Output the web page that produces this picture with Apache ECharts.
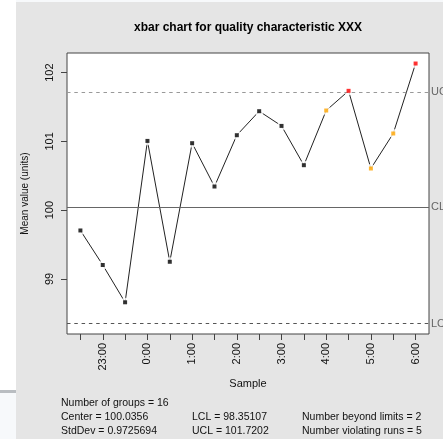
<!DOCTYPE html>
<html>
<head>
<meta charset="utf-8">
<script src="https://cdn.jsdelivr.net/npm/echarts@6/dist/echarts.min.js"></script>
<style>
  html, body { margin: 0; padding: 0; background: #f7f9fb; }
  #bg { position: absolute; left: 16px; top: 2px; width: 427px; height: 437px; background: #e5e5e5; }
  #wh { position: absolute; left: 0; top: 0; width: 16px; height: 390px; background: #ffffff; }
  #stripe { position: absolute; left: 0; top: 390px; width: 16px; height: 3px; background: #b9bdc1; }
  #chart { position: absolute; left: 0; top: 0; width: 443px; height: 439px; }
</style>
</head>
<body>
<div id="wh"></div>
<div id="stripe"></div>
<div id="bg"></div>
<div id="chart"></div>
<script>
// ---- data ----
const sampleLabels = ['22:30','23:00','23:30','0:00','0:30','1:00','1:30','2:00','2:30','3:00','3:30','4:00','4:30','5:00','5:30','6:00'];
const groupMeans = [99.705, 99.203, 98.661, 101.007, 99.25, 100.974, 100.344, 101.09, 101.439, 101.225, 100.654, 101.449, 101.735, 100.606, 101.115, 102.132];
const violatingRuns = [12, 14, 15];   // sample numbers (1-based), orange
const beyondLimits = [13, 16];        // sample numbers (1-based), red
const centerLine = 100.0356;
const lowerLimit = 98.35107;
const upperLimit = 101.7202;
const yTicks = [99, 100, 101, 102];
const statsCol1 = ['Number of groups = 16', 'Center = 100.0356', 'StdDev = 0.9725694'];
const statsCol2 = ['', 'LCL = 98.35107', 'UCL = 101.7202'];
const statsCol3 = ['', 'Number beyond limits = 2', 'Number violating runs = 5'];

const FONT = 'Liberation Sans, Arial, Helvetica, sans-serif';
const chart = echarts.init(document.getElementById('chart'), null, { renderer: 'canvas' });

const sampleNums = sampleLabels.map((_, i) => i + 1);
const pts = groupMeans.map((v, i) => [i + 1, v]);
const colored = groupMeans.map((v, i) => {
  const n = i + 1;
  let c = '#000000';
  if (beyondLimits.includes(n)) c = '#ff0000';
  else if (violatingRuns.includes(n)) c = '#ffa500';
  return { value: [n, v], itemStyle: { color: c } };
});

const graphics = [{
  type: 'text', x: 248, y: 28,
  style: { text: 'xbar chart for quality characteristic XXX', font: 'bold 12px ' + FONT, fill: '#000', align: 'center', verticalAlign: 'middle' }
}];
const cols = [[statsCol1, 61], [statsCol2, 192], [statsCol3, 302]];
cols.forEach(([lines, x]) => {
  lines.forEach((t, k) => {
    if (!t) return;
    graphics.push({ type: 'text', x: x, y: 403 + k * 14,
      style: { text: t, font: '10.5px ' + FONT, fill: '#111', align: 'left', verticalAlign: 'middle' } });
  });
});

const limitLine = (val, name, dash, color) => ({
  yAxis: val, name: name,
  lineStyle: { type: dash, color: color, width: 1 },
  label: { show: true, position: 'end', formatter: name, color: '#666', fontFamily: FONT, fontSize: 11, distance: 2 }
});

chart.setOption({
  backgroundColor: 'transparent',
  animation: false,
  grid: { left: 67, top: 53, width: 362, height: 281, show: true, borderColor: '#444', borderWidth: 1, backgroundColor: '#ffffff' },
  graphic: graphics,
  xAxis: {
    type: 'value', min: 0.4, max: 16.6,
    name: 'Sample', nameLocation: 'middle', nameGap: 38,
    nameTextStyle: { fontFamily: FONT, fontSize: 11, color: '#111' },
    axisLine: { show: false },
    splitLine: { show: false },
    axisTick: { show: true, length: 6, customValues: sampleNums, lineStyle: { color: '#444' } },
    axisLabel: {
      customValues: sampleNums.filter(n => n % 2 === 0),
      formatter: v => sampleLabels[Math.round(v) - 1],
      rotate: 90, margin: 9, fontFamily: FONT, fontSize: 11, color: '#111'
    }
  },
  yAxis: {
    type: 'value', min: 98.2, max: 102.285,
    name: 'Mean value (units)', nameLocation: 'middle', nameGap: 37,
    nameTextStyle: { fontFamily: FONT, fontSize: 10, color: '#111' },
    axisLine: { show: false },
    splitLine: { show: false },
    axisTick: { show: true, length: 6, customValues: yTicks, lineStyle: { color: '#444' } },
    axisLabel: { customValues: yTicks, rotate: 90, margin: 12, fontFamily: FONT, fontSize: 11, color: '#111' }
  },
  series: [
    { type: 'line', data: pts, showSymbol: false, symbol: 'none', lineStyle: { color: '#222', width: 1 }, z: 2, silent: true },
    { type: 'scatter', data: pts, symbol: 'circle', symbolSize: 9, itemStyle: { color: '#ffffff' }, z: 3, silent: true },
    { type: 'line', data: [], z: 4, silent: true,
      markLine: { silent: true, symbol: ['none', 'none'], animation: false,
        data: [
          limitLine(upperLimit, 'UCL', [3.5, 3.8], '#999'),
          limitLine(centerLine, 'CL', 'solid', '#666'),
          limitLine(lowerLimit, 'LCL', [3.5, 3.8], '#555')
        ] } },
    { type: 'scatter', data: colored, symbol: 'rect', symbolSize: 4, z: 5, silent: true }
  ]
});
</script>
</body>
</html>
